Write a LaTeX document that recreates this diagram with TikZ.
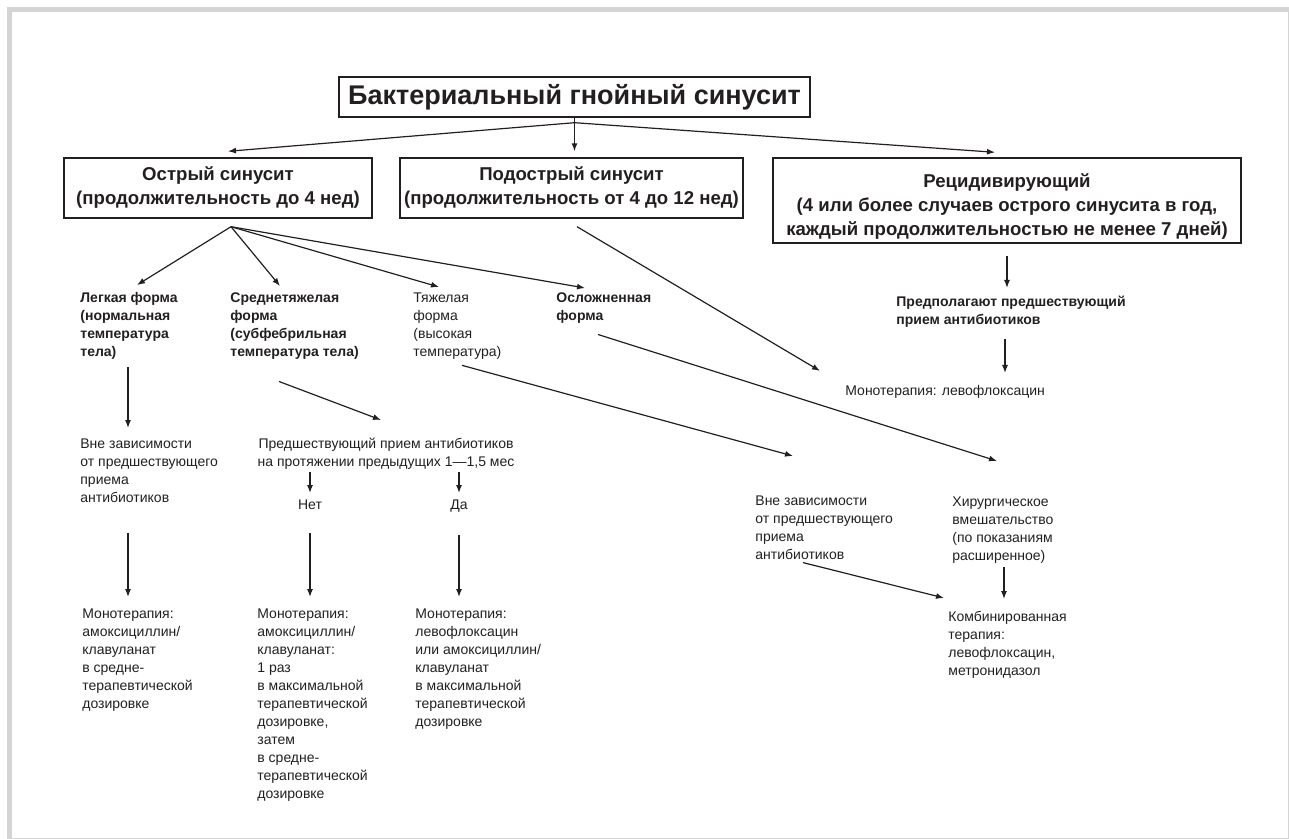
\documentclass[tikz,border=0pt]{standalone}
\usepackage{fontspec}
\setmainfont{Liberation Sans}
\usetikzlibrary{arrows.meta,positioning}
\definecolor{framegray}{HTML}{D4D4D4}
\definecolor{inkgray}{HTML}{231F20}

\begin{document}
\begin{tikzpicture}[
    x=0.5pt, y=-0.5pt,
    note/.style={anchor=north west, inner sep=0pt, align=left, text=inkgray,
      font=\fontsize{7}{9}\selectfont},
    bnote/.style={note, font=\fontsize{7}{9}\selectfont\bfseries},
    cnote/.style={note, anchor=north, align=center},
    box/.style={draw=inkgray, line width=0.7pt, align=center, inner sep=0pt,
      text=inkgray, font=\fontsize{9.3}{12}\selectfont\bfseries},
    titlebox/.style={box, font=\fontsize{13.5}{15}\selectfont\bfseries},
    arrow/.style={-{Latex[length=4pt,width=3pt]}, line width=0.6pt, draw=inkgray}
  ]
    \useasboundingbox (0,0) rectangle (1289,839);
    \draw[framegray, line width=2.5pt] (9.5,9.5) rectangle (1290,840);

    % top level
    \node[titlebox, minimum width=235.5pt, minimum height=20pt] (bact) at (574.5,97)
      {Бактериальный гнойный синусит};
    \node[box, minimum width=154pt, minimum height=30pt] (ostr) at (218,188)
      {Острый синусит\\(продолжительность до 4 нед)};
    \node[box, minimum width=171.5pt, minimum height=30pt] (pod) at (571.5,188)
      {Подострый синусит\\(продолжительность от 4 до 12 нед)};
    \node[box, minimum width=234pt, minimum height=42.5pt] (recid) at (1007,200.5)
      {\rule{0pt}{13pt}Рецидивирующий\\(4 или более случаев острого синусита в год,\\каждый продолжительностью не менее 7 дней)};
    \coordinate (fork) at ([yshift=-2.5pt]bact.south);
    \coordinate (ofork) at ([shift={(6.5pt,-4pt)}]ostr.south);

    % forms of acute sinusitis
    \node[bnote] (legk) at (80,292) {Легкая форма\\(нормальная\\температура\\тела)};
    \node[bnote] (sredn) at (230,292) {Среднетяжелая\\форма\\(субфебрильная\\температура тела)};
    \node[note] (tyazh) at (413,292) {Тяжелая\\форма\\(высокая\\температура)};
    \node[bnote] (oslozh) at (556,292) {Осложненная\\форма};

    % recurrent branch
    \node[bnote] (predp) at (896,296) {Предполагают предшествующий\\прием антибиотиков};
    \node[note] (monolevo) at (845,385) {Монотерапия: левофлоксацин};

    % second level
    \node[note] (vnez1) at (80,438) {Вне зависимости\\от предшествующего\\приема\\антибиотиков};
    \node[cnote] (predsh) at (386,438) {Предшествующий прием антибиотиков\\на протяжении предыдущих 1---1,5 мес};
    \node[cnote] (net) at (310,499) {Нет};
    \node[cnote] (da) at (459,499) {Да};
    \node[note] (vnez2) at (755,495) {Вне зависимости\\от предшествующего\\приема\\антибиотиков};
    \node[note] (hirurg) at (952,496) {Хирургическое\\вмешательство\\(по показаниям\\расширенное)};

    % therapy
    \node[note] (monoA) at (82,608) {Монотерапия:\\амоксициллин/\\клавуланат\\в средне-\\терапевтической\\дозировке};
    \node[note] (monoB) at (257,608) {Монотерапия:\\амоксициллин/\\клавуланат:\\1 раз\\в максимальной\\терапевтической\\дозировке,\\затем\\в средне-\\терапевтической\\дозировке};
    \node[note] (monoC) at (415,608) {Монотерапия:\\левофлоксацин\\или амоксициллин/\\клавуланат\\в максимальной\\терапевтической\\дозировке};
    \node[note] (komb) at (948,611) {Комбинированная\\терапия:\\левофлоксацин,\\метронидазол};

    % connectors
    \draw[arrow] (fork) -- ([shift={(5pt,3pt)}]ostr.north);
    \draw[arrow, shorten >=3pt] (bact.south) -- (bact.south |- pod.north);
    \draw[arrow] (fork) -- ([shift={(-6pt,2.5pt)}]recid.north);
    \draw[arrow] (ofork) -- ([shift={(28.5pt,3.5pt)}]legk.north west);
    \draw[arrow] (ofork) -- ([shift={(25pt,3pt)}]sredn.north west);
    \draw[arrow] (ofork) -- ([shift={(13pt,2.5pt)}]tyazh.north west);
    \draw[arrow] (ofork) -- ([shift={(14.5pt,2pt)}]oslozh.north west);
    \draw[arrow] ([shift={(2.75pt,-4pt)}]pod.south) -- ([shift={(-12.5pt,10.5pt)}]monolevo.west);
    \draw[arrow, shorten <=6pt, shorten >=4pt] (recid.south) -- (recid.south |- predp.north);
    \draw[arrow, shorten <=5.5pt, shorten >=6pt] ([xshift=54.5pt]predp.south west) -- ([xshift=54.5pt]predp.south west |- monolevo.north);
    \draw[arrow, shorten <=3.5pt, shorten >=5pt] ([xshift=24pt]legk.south west) -- ([xshift=24pt]legk.south west |- vnez1.north);
    \draw[arrow, shorten <=15pt, shorten >=5.5pt] ([xshift=24pt]vnez1.south west) -- ([xshift=24pt]vnez1.south west |- monoA.north);
    \draw[arrow] ([shift={(24.5pt,-11pt)}]sredn.south west) -- ([shift={(-2.5pt,9pt)}]predsh.north);
    \draw[arrow, shorten <=1pt, shorten >=3pt] (predsh.south -| net) -- (net.north);
    \draw[arrow, shorten <=1pt, shorten >=3pt] (predsh.south -| da) -- (da.north);
    \draw[arrow, shorten <=11.5pt, shorten >=5.5pt] (net.south) -- (net.south |- monoB.north);
    \draw[arrow, shorten <=11.5pt, shorten >=5.5pt] (da.south) -- (da.south |- monoC.north);
    \draw[arrow] ([shift={(24.5pt,-3pt)}]tyazh.south west) -- ([shift={(19pt,19.5pt)}]vnez2.north west);
    \draw[arrow] ([shift={(21pt,-5.5pt)}]oslozh.south west) -- ([shift={(22.5pt,17.5pt)}]hirurg.north west);
    \draw[arrow] ([shift={(24pt,-1.5pt)}]vnez2.south west) -- ([shift={(-2pt,6.5pt)}]komb.north west);
    \draw[arrow, shorten <=2pt, shorten >=6pt] ([xshift=26pt]hirurg.south west) -- ([xshift=26pt]hirurg.south west |- komb.north);
  \end{tikzpicture}
\end{document}
